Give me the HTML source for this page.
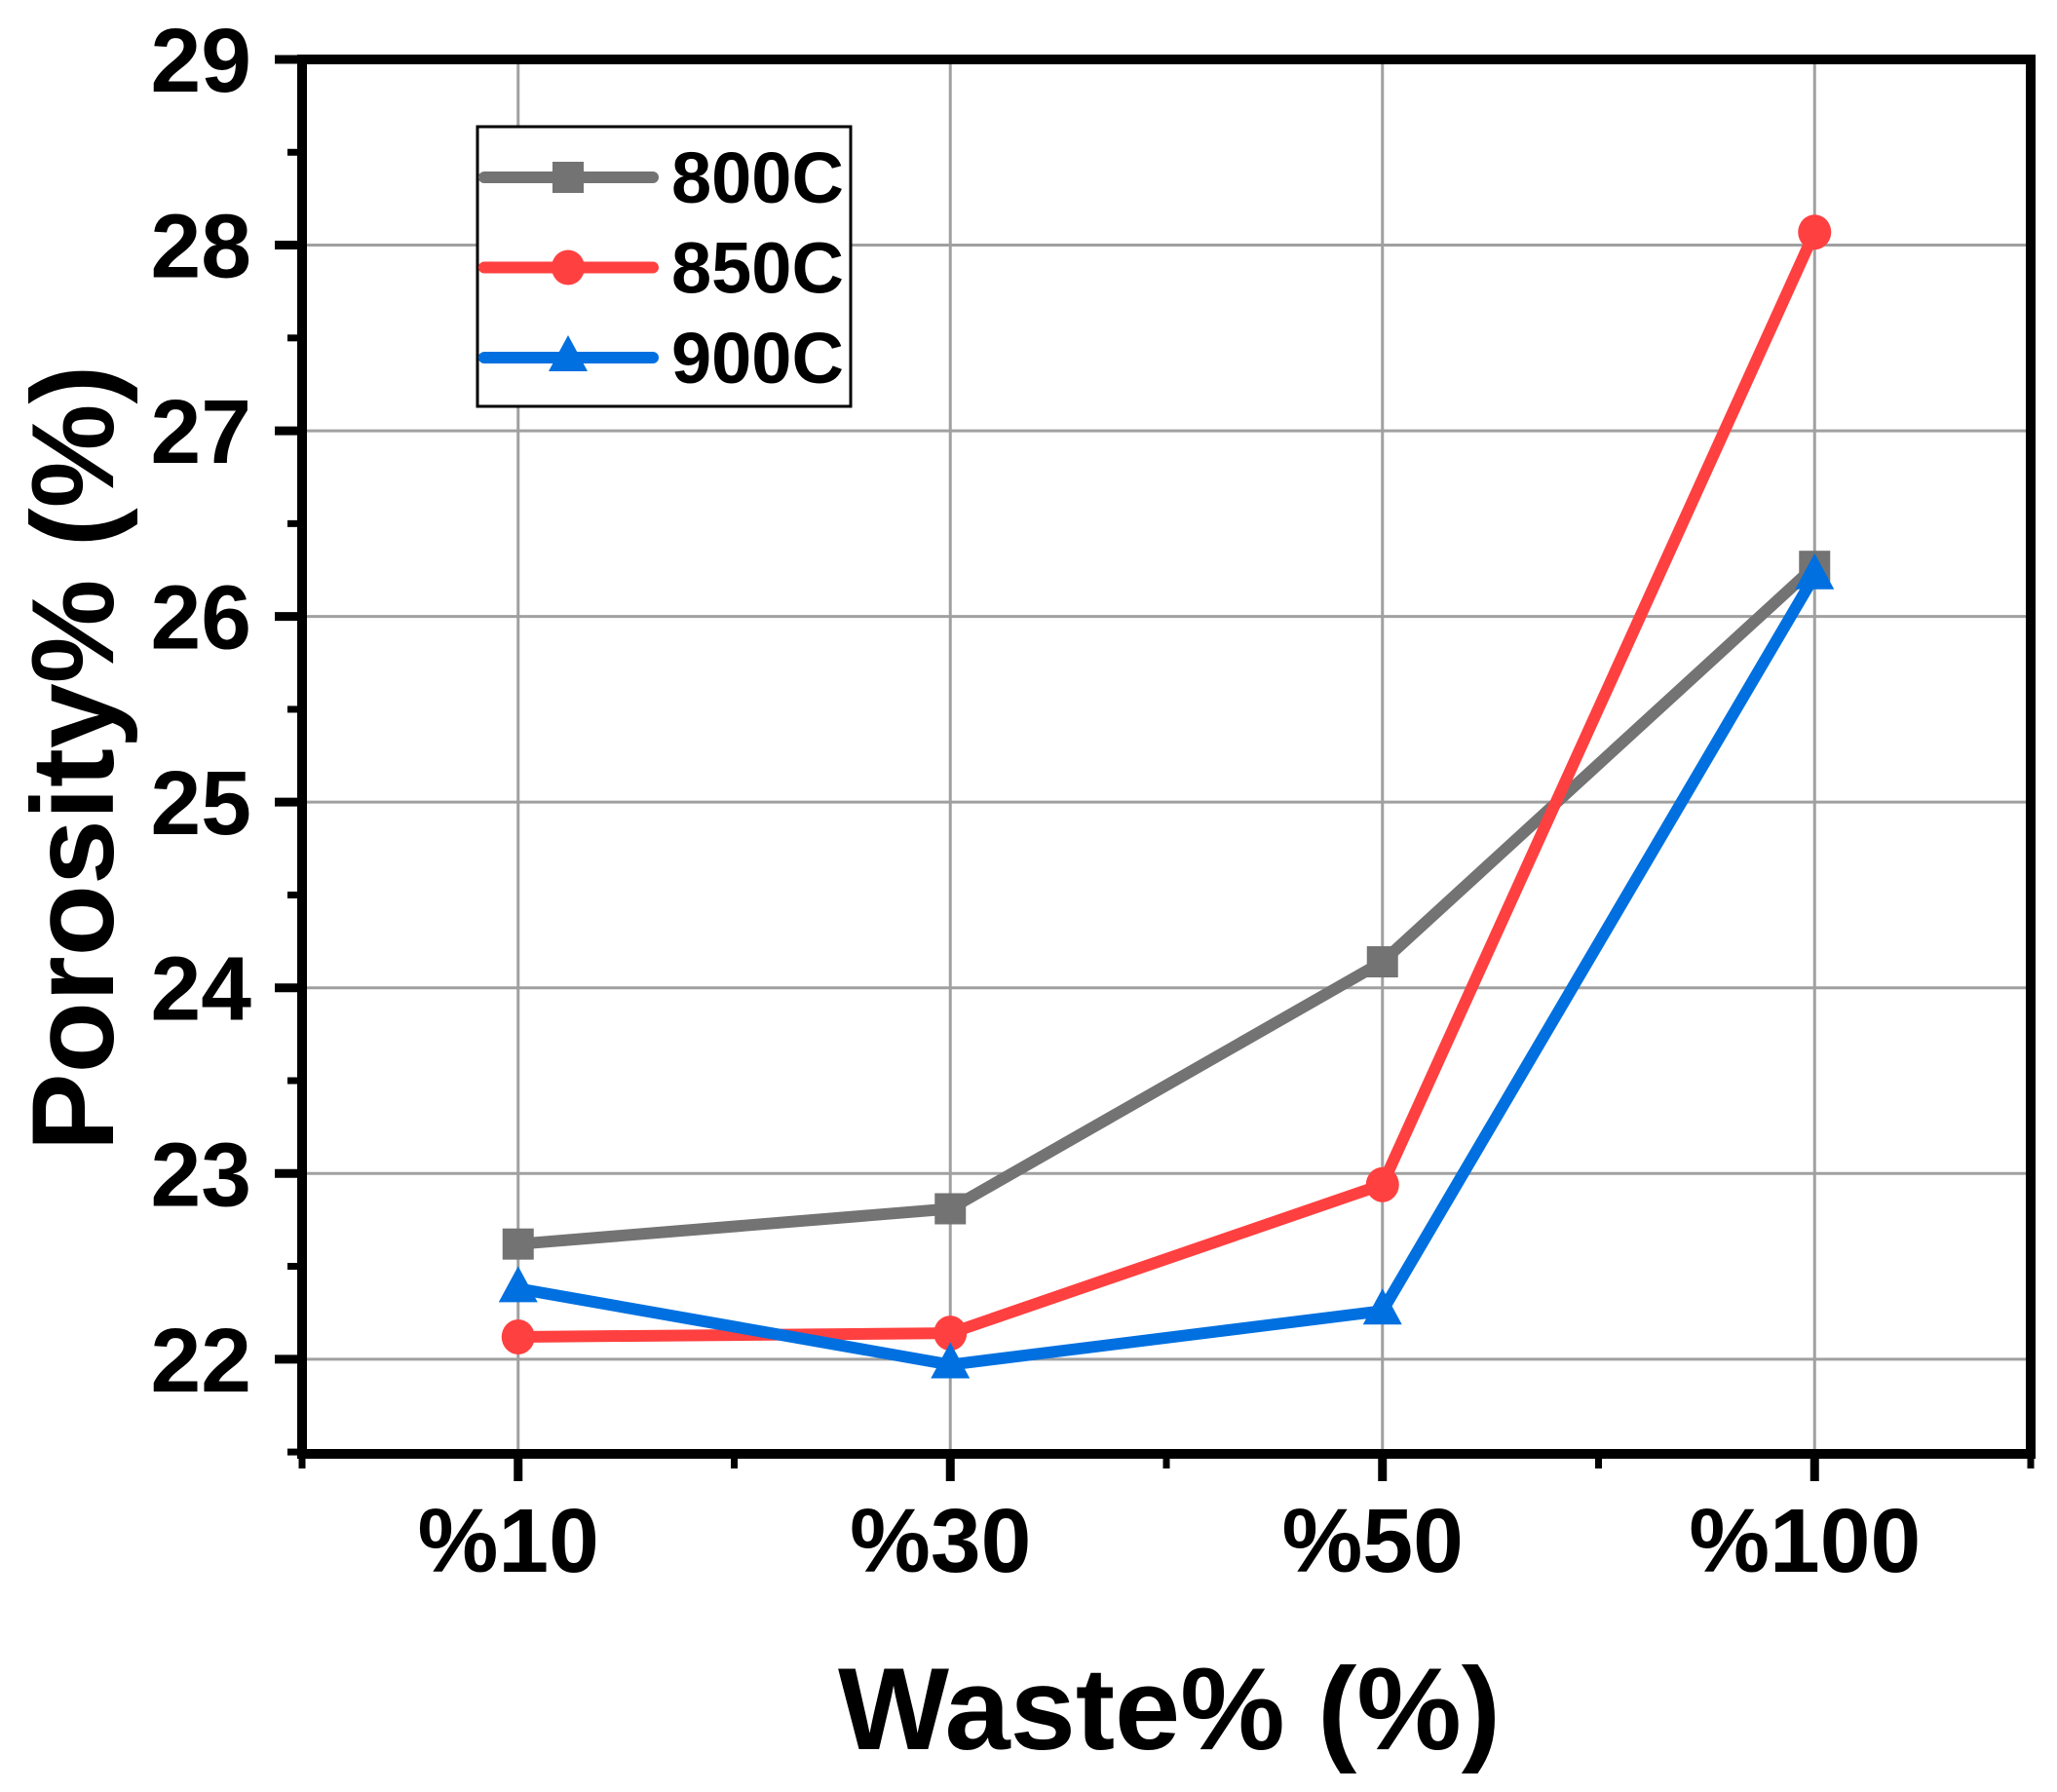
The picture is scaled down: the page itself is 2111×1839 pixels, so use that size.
<!DOCTYPE html>
<html><head><meta charset="utf-8"><style>
html,body{margin:0;padding:0;background:#fff}
svg{display:block}
text{font-family:"Liberation Sans",Arial,sans-serif;font-weight:bold;fill:#000}
</style></head><body>
<svg id="chart" width="2111" height="1839" viewBox="0 0 2111 1839" xmlns="http://www.w3.org/2000/svg">
<g id="grid"></g>
<g id="series"></g>
<g id="axes"></g>
<text x="1200" y="1795" font-size="120" text-anchor="middle" textLength="680" lengthAdjust="spacingAndGlyphs">Waste% (%)</text>
<text transform="translate(116,778) rotate(-90)" font-size="120" text-anchor="middle">Porosity% (%)</text>
<g id="legend">
<rect x="490" y="130" width="383" height="287" fill="#fff" stroke="#000" stroke-width="3"/>
</g>
</svg>
<script>
const categories = ["%10","%30","%50","%100"];
const s800 = [22.62, 22.81, 24.14, 26.27];
const s850 = [22.12, 22.14, 22.94, 28.07];
const s900 = [22.38, 21.97, 22.26, 26.22];
const seriesNames = ["800C","850C","900C"];
const yTicks = [22,23,24,25,26,27,28,29];

const NS="http://www.w3.org/2000/svg";
const L=310,R=2084,T=61,B=1492;
const yMin=21.49,yMax=29;
function xs(i){return L+(i+0.5)*(R-L)/categories.length;}
function ys(v){return B-(v-yMin)/(yMax-yMin)*(B-T);}
function mk(tag,attrs,parent){const e=document.createElementNS(NS,tag);for(const k in attrs)e.setAttribute(k,attrs[k]);parent.appendChild(e);return e;}
const grid=document.getElementById('grid'),axes=document.getElementById('axes'),ser=document.getElementById('series'),leg=document.getElementById('legend');

categories.forEach((c,i)=>{
  const g=mk('line',{x1:xs(i),x2:xs(i),y1:T,y2:B,stroke:'#a0a0a0','stroke-width':3},grid);
  
  
  const t=mk('line',{x1:xs(i),x2:xs(i),y1:B,y2:B+28,stroke:'#000','stroke-width':9},axes);
  
  
  const lb=mk('text',{x:xs(i)-10,y:1613,'font-size':93,'text-anchor':'middle'},axes);
  lb.textContent=c;
  
  
});
for(let i=0;i<=categories.length;i++){
  const x=L+i*(R-L)/categories.length;
  const t=mk('line',{x1:x,x2:x,y1:B,y2:B+15,stroke:'#000','stroke-width':7},axes);
  
  
}
yTicks.forEach(v=>{
  const y=ys(v);
  if(v<yMax){const g=mk('line',{x1:L,x2:R,y1:y,y2:y,stroke:'#a0a0a0','stroke-width':3},grid);
  
  }
  const t=mk('line',{x1:L-28,x2:L,y1:y,y2:y,stroke:'#000','stroke-width':9},axes);
  
  
  const m=mk('line',{x1:L-15,x2:L,y1:ys(v-0.5),y2:ys(v-0.5),stroke:'#000','stroke-width':7},axes);
  
  
  const lb=mk('text',{x:258,y:y+33,'font-size':93,'text-anchor':'end'},axes);
  lb.textContent=v;
  
  
});
const frame=mk('rect',{x:L,y:T,width:R-L,height:B-T,fill:'none',stroke:'#000','stroke-width':10},axes);



const colors=['#737373','#ff4040','#0070e0'];
const shapes=['square','circle','triangle'];
function marker(shape,x,y,col,parent){
  if(shape==='square') return mk('rect',{x:x-16,y:y-16,width:32,height:32,fill:col},parent);
  if(shape==='circle') return mk('ellipse',{cx:x,cy:y,rx:17,ry:18,fill:col},parent);
  return mk('polygon',{points:`${x},${y-23} ${x+20},${y+14} ${x-20},${y+14}`,fill:col},parent);
}
[s800,s850,s900].forEach((vals,si)=>{
  const pts=vals.map((v,i)=>xs(i)+','+ys(v)).join(' ');
  const pl=mk('polyline',{points:pts,fill:'none',stroke:colors[si],'stroke-width':12,'stroke-linejoin':'miter'},ser);
  
  
  vals.forEach((v,i)=>{
    const m=marker(shapes[si],xs(i),ys(v),colors[si],ser);
    
    
  });
  const ly=182+si*92.5;
  const ll=mk('line',{x1:497,x2:670,y1:ly,y2:ly,stroke:colors[si],'stroke-width':12,'stroke-linecap':'round'},leg);
  
  
  const lm=marker(shapes[si],583,ly,colors[si],leg);
  
  
  const lt=mk('text',{x:689,y:ly+26,'font-size':74},leg);
  lt.textContent=seriesNames[si];
  
  
});
</script>
</body></html>
